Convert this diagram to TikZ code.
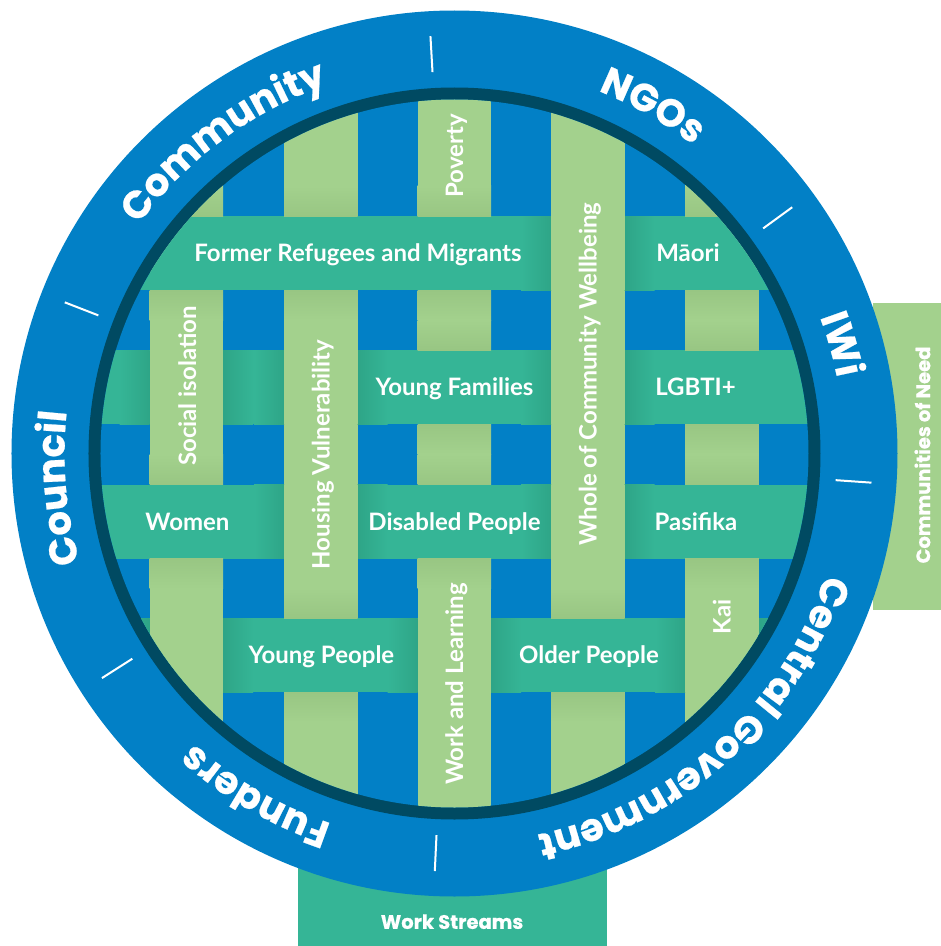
\documentclass[tikz,border=0pt]{standalone}
\usepackage{fontspec}
\setmainfont{Lato}
\newfontfamily\ringfont{Poppins}[BoldFeatures={FakeBold=0.6}]
\usetikzlibrary{decorations.text}
\definecolor{ringblue}{HTML}{0280C6}
\definecolor{darkring}{HTML}{004A62}
\definecolor{tealband}{HTML}{35B596}
\definecolor{tealdark}{HTML}{2EA587}
\definecolor{greenband}{HTML}{A3D18D}
\definecolor{greendark}{HTML}{98C683}
\newcommand\myringfmt{\color{white}\ringfont\bfseries\fontsize{38.5}{38.5}\selectfont}
\newcommand\myringlabel[2]{\path[ringtext={#2}] ({#1+45}:390) arc[start angle={#1+45}, end angle={#1-45}, radius=390];}
\begin{document}
\begin{tikzpicture}[x=1pt,y=1pt,
  inlabel/.style={text=white, font=\bfseries\fontsize{24}{28}\selectfont,
    inner sep=0pt, text height=17.2pt, text depth=0pt, anchor=center},
  vlabel/.style={inlabel, rotate=90},
  tablabel/.style={text=white, font=\ringfont\bfseries\fontsize{19.5}{22}\selectfont,
    inner sep=0pt, text height=13.7pt, text depth=0pt, anchor=center},
  ringtick/.style={white, line width=2pt},
  ringtext/.style={decorate, decoration={text along path, text align=center, text={|\myringfmt|#1}}}
]
\useasboundingbox (-454.5,-492.5) rectangle (486.5,453.5);
% tabs behind the ring
\fill[greenband] (418,150.5) rectangle (486.5,-156.5);
\fill[tealband] (-156.5,-300) rectangle (152.5,-492.5);
% ring
\fill[ringblue] (0,0) circle[radius=443];
\fill[darkring] (0,0) circle[radius=366];
\fill[ringblue] (0,0) circle[radius=354];
% weave
\begin{scope}
  \clip (0,0) circle[radius=354];
  \foreach \c in {-268,-133.5,0,133.5,267.5}
    \fill[greenband] (\c-36.75,-360) rectangle (\c+36.75,360);
  \foreach \r in {200.5,66.5,-68,-201.5}
    \fill[tealband] (-360,\r-37) rectangle (360,\r+37);
  % shadows where the horizontal band passes under a vertical one
  \foreach \c/\r in {133.5/200.5, -268/66.5, -133.5/66.5, 133.5/66.5,
                     -133.5/-68, 133.5/-68, -268/-201.5, 0/-201.5, 267.5/-201.5}{
    \shade[left color=tealband, right color=tealdark] (\c-66.75,\r-37) rectangle (\c-36.75,\r+37);
    \shade[left color=tealdark, right color=tealband] (\c+36.75,\r-37) rectangle (\c+66.75,\r+37);
    \fill[greenband] (\c-36.75,\r-37) rectangle (\c+36.75,\r+37);
  }
  % shadows where the vertical band passes under a horizontal one
  \foreach \c/\r in {-268/200.5, -133.5/200.5, 0/200.5, 267.5/200.5, 0/66.5, 267.5/66.5,
                     -268/-68, 0/-68, 267.5/-68, -133.5/-201.5, 133.5/-201.5}{
    \shade[bottom color=greendark, top color=greenband] (\c-36.75,\r+37) rectangle (\c+36.75,\r+67);
    \shade[top color=greendark, bottom color=greenband] (\c-36.75,\r-67) rectangle (\c+36.75,\r-37);
  }
\end{scope}
% inner labels
\node[inlabel] (refugees) at (-96.5,200.5) {Former Refugees and Migrants};
\node[inlabel] (maori) at (233.5,200.5) {Māori};
\node[vlabel] (poverty) at (0,297.5) {Poverty};
\node[vlabel] (social) at (-267,67.5) {Social isolation};
\node[vlabel] (housing) at (-133.5,-1) {Housing Vulnerability};
\node[inlabel] (youngfam) at (0,66.5) {Young Families};
\node[inlabel] (lgbti) at (241,66.5) {LGBTI+};
\node[vlabel] (whole) at (133.5,79.5) {Whole of Community Wellbeing};
\node[inlabel] (women) at (-267,-68) {Women};
\node[inlabel] (disabled) at (0,-68) {Disabled People};
\node[inlabel] (pasifika) at (241.5,-68) {Pasifika};
\node[vlabel] (worklearn) at (0,-230.5) {Work and Learning};
\node[inlabel] (youngpeople) at (-133,-201.5) {Young People};
\node[inlabel] (older) at (134.5,-201.5) {Older People};
\node[vlabel] (kai) at (267.5,-163.5) {Kai};
% ticks
\foreach \a in {93.3,158.8,36.1,-4,212.5,267.3}
  \draw[ringtick] (\a:382) -- (\a:418);
% ring labels
\myringlabel{126.5}{Community}
\myringlabel{60.3}{NGOs}
\myringlabel{15.8}{IWi}
\myringlabel{185}{Council}
\myringlabel{239.8}{Funders}
\myringlabel{-47.9}{Central Government}
% tab labels
\node[tablabel, rotate=90] (needs) at (468.8,-1.5) {Communities of Need};
\node[tablabel] (streams) at (-2.5,-468.5) {Work Streams};
\end{tikzpicture}
\end{document}
